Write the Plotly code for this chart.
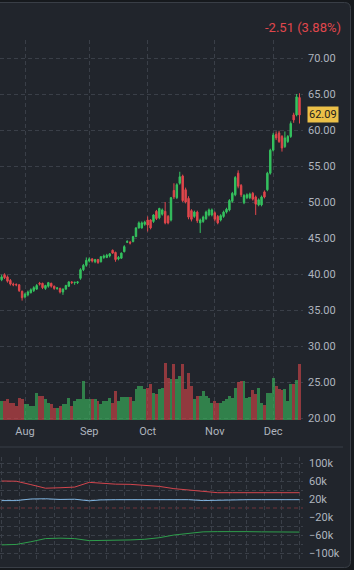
import plotly.graph_objects as go
import pandas as pd

# ---------------- data ----------------
dates = pd.bdate_range("2024-07-22", "2024-12-13", freq="C",
                       holidays=["2024-09-02", "2024-11-28"])
cats = list(dates.strftime("%Y-%m-%d"))

opens = [39.2, 39.9, 39.6, 39.1, 38.6, 38.55, 38.5, 37.6, 36.8, 37.1,
         37.4, 37.7, 37.9, 38.7, 38.7, 38.0, 38.3, 38.7, 38.3, 38.0,
         38.0, 37.5, 37.9, 38.3, 38.9, 38.8, 38.8, 39.4, 40.6, 41.2,
         41.8, 42.1, 41.7, 42.0, 41.7, 42.3, 42.3, 42.5, 43.3, 43.0,
         42.1, 42.2, 43.1, 44.4, 44.4, 44.5, 45.2, 46.4, 46.4, 46.9,
         47.5, 47.5, 47.3, 48.7, 47.8, 48.3, 48.7, 48.0, 47.5, 51.6,
         50.6, 52.6, 53.6, 51.7, 50.5, 48.8, 48.0, 48.6, 47.1, 47.3,
         47.7, 48.2, 48.2, 48.5, 48.0, 47.5, 48.0, 48.6, 48.9, 50.1,
         51.0, 54.0, 52.3, 49.9, 50.6, 50.6, 51.2, 50.7, 49.6, 49.6,
         51.4, 51.7, 54.0, 57.2, 59.4, 59.6, 59.1, 57.7, 58.4, 59.1,
         62.1, 62.1, 64.5]
highs = [39.9, 40.1, 39.8, 39.3, 38.8, 38.7, 38.6, 37.7, 37.4, 37.7,
         38.0, 38.3, 38.6, 38.9, 38.8, 38.5, 38.9, 38.8, 38.4, 38.2,
         38.1, 38.0, 38.5, 39.0, 39.0, 38.9, 39.0, 40.8, 41.4, 42.3,
         42.3, 42.2, 42.1, 42.1, 42.5, 42.7, 42.8, 42.9, 43.4, 43.1,
         42.5, 43.0, 44.0, 44.7, 44.6, 45.3, 46.5, 47.3, 47.3, 47.4,
         48.0, 47.6, 48.3, 48.9, 49.2, 49.1, 50.0, 48.2, 50.7, 52.6,
         52.6, 54.2, 53.8, 52.0, 50.8, 49.0, 48.8, 48.8, 47.7, 48.1,
         48.8, 49.1, 49.1, 48.7, 48.2, 48.3, 48.8, 49.2, 50.4, 51.4,
         53.6, 54.4, 52.5, 51.1, 51.2, 51.3, 51.4, 50.9, 50.5, 50.9,
         51.6, 54.2, 57.4, 59.6, 59.8, 59.9, 59.3, 59.8, 59.3, 61.2,
         62.4, 65.0, 65.1]
lows = [39.0, 39.3, 38.8, 38.4, 38.3, 38.3, 37.5, 36.3, 36.6, 36.9,
        37.3, 37.5, 37.8, 38.4, 37.9, 37.8, 38.1, 38.1, 37.8, 37.8,
        37.3, 37.1, 37.8, 38.2, 38.6, 38.5, 38.6, 39.2, 40.4, 41.0,
        41.6, 41.6, 41.5, 41.4, 41.6, 42.1, 42.2, 42.3, 42.8, 41.7,
        41.9, 42.1, 43.0, 44.3, 44.1, 44.4, 45.1, 46.3, 46.3, 46.7,
        45.9, 46.2, 47.1, 47.5, 47.6, 48.1, 46.9, 46.9, 47.3, 50.4,
        50.4, 52.4, 50.0, 49.8, 47.6, 47.3, 47.8, 47.1, 45.7, 47.1,
        47.5, 48.0, 48.0, 47.3, 46.9, 47.3, 47.8, 48.4, 48.7, 49.9,
        50.8, 51.9, 50.7, 49.7, 50.4, 50.4, 50.2, 48.2, 49.4, 49.4,
        50.5, 51.5, 53.8, 57.0, 58.6, 58.2, 57.0, 57.5, 58.2, 58.9,
        61.0, 61.9, 60.9]
closes = [39.6, 39.5, 39.0, 38.6, 38.5, 38.5, 37.7, 36.7, 37.2, 37.5,
          37.8, 38.1, 38.4, 38.6, 38.1, 38.4, 38.8, 38.3, 38.0, 38.05,
          37.5, 37.9, 38.4, 38.9, 38.8, 38.85, 38.9, 40.6, 41.2, 41.9,
          42.1, 41.8, 42.0, 41.6, 42.4, 42.5, 42.6, 42.8, 42.9, 42.0,
          42.3, 42.9, 43.8, 44.5, 44.3, 45.2, 46.4, 47.1, 47.1, 47.2,
          46.8, 46.4, 48.2, 47.7, 49.1, 48.9, 47.1, 47.1, 50.6, 50.7,
          52.4, 53.5, 50.2, 50.0, 47.9, 47.6, 48.6, 47.4, 47.5, 47.9,
          48.6, 48.9, 48.9, 47.6, 47.1, 48.1, 48.6, 49.0, 50.2, 51.2,
          53.4, 52.2, 51.0, 50.9, 51.0, 51.1, 50.4, 49.7, 50.3, 50.7,
          50.7, 54.0, 57.2, 59.3, 58.9, 58.4, 57.5, 58.9, 59.1, 60.9,
          61.4, 64.6, 62.09]
volumes = [19, 19, 21, 17, 17, 14, 22, 21, 16, 16,
           14, 14, 27, 24, 24, 21, 17, 16, 12, 12,
           14, 16, 16, 22, 14, 19, 21, 21, 39, 21,
           21, 21, 21, 19, 16, 19, 19, 22, 17, 29,
           19, 23, 23, 23, 23, 19, 31, 34, 34, 31,
           32, 36, 27, 26, 31, 32, 57, 42, 41, 56,
           41, 44, 56, 31, 47, 34, 21, 24, 24, 29,
           24, 22, 17, 19, 17, 17, 19, 21, 24, 22,
           32, 38, 39, 39, 22, 23, 30, 26, 32, 17,
           15, 27, 27, 42, 34, 31, 30, 31, 19, 36,
           36, 40, 56]

week_dates = ["2024-07-22", "2024-07-29", "2024-08-05", "2024-08-12", "2024-08-19",
              "2024-08-26", "2024-09-03", "2024-09-09", "2024-09-16", "2024-09-23",
              "2024-09-30", "2024-10-07", "2024-10-14", "2024-10-21", "2024-10-28",
              "2024-11-04", "2024-11-11", "2024-11-18", "2024-11-25", "2024-12-02",
              "2024-12-09", "2024-12-13"]
red_series = [60000, 59500, 52000, 44000, 45000, 46500, 57000, 55000, 53000, 52600,
              49500, 48000, 43000, 39500, 36500, 34000, 34000, 34000, 34000, 34000,
              34000, 34000]
blue_series = [16500, 16500, 20000, 20500, 19000, 19500, 16000, 18000, 18500, 18500,
               20000, 20000, 19500, 18500, 16500, 17500, 18500, 18500, 18500, 18500,
               18500, 18500]
green_series = [-82000, -81000, -75000, -68000, -67000, -68000, -72500, -72500, -71500, -71000,
                -69500, -66000, -60000, -56000, -53000, -52500, -52000, -52500, -53000, -53000,
                -53500, -53500]

month_labels = ["Aug", "Sep", "Oct", "Nov", "Dec"]
price_ticks = [20, 25, 30, 35, 40, 45, 50, 55, 60, 65, 70]
osc_ticks = [-100000, -80000, -60000, -40000, -20000, 20000, 40000, 60000, 80000, 100000]
osc_labels = ["−100k", "", "−60k", "", "−20k", "20k", "", "60k", "", "100k"]
change_text = "-2.51 (3.88%)"

# ---------------- styling ----------------
W, H = 354, 570
PLOT_W = 303
OUTER = "#16191d"
CARD = "#21252c"
BORDER = "#393e46"
GRID = "#3a3f48"
TXT = "#aeb4be"
UP = "#35c25f"
DOWN = "#e0474c"
FONT = "Roboto"


def xp(px):
    return px / PLOT_W


def yp(py):
    return 1 - py / H


month_first = []
seen = set()
for d in dates:
    key = (d.year, d.month)
    if key not in seen:
        seen.add(key)
        if d.month != 7:
            month_first.append(d.strftime("%Y-%m-%d"))

vol_colors = ["rgba(60,185,95,0.62)" if c >= o else "rgba(215,70,75,0.62)"
              for o, c in zip(opens, closes)]

fig = go.Figure()
fig.add_trace(go.Bar(x=cats, y=volumes, marker=dict(color=vol_colors, line=dict(width=0)),
                     yaxis="y2", xaxis="x", hoverinfo="skip", showlegend=False))
fig.add_trace(go.Candlestick(
    x=cats, open=opens, high=highs, low=lows, close=closes,
    increasing=dict(line=dict(color=UP, width=1), fillcolor=UP),
    decreasing=dict(line=dict(color=DOWN, width=1), fillcolor=DOWN),
    whiskerwidth=0, showlegend=False, xaxis="x", yaxis="y"))

for series, col in [(red_series, "#d2454d"), (blue_series, "#7fb4e0"), (green_series, "#2e9e4c")]:
    fig.add_trace(go.Scatter(x=week_dates, y=series, mode="lines",
                             line=dict(color=col, width=1), xaxis="x2", yaxis="y3",
                             showlegend=False, hoverinfo="skip"))

main_top, main_bot = 40, 420
px_per_unit = 7.2  # 5 price units per 36 px
price_lo = 20 - (main_bot - 418) / px_per_unit
price_hi = 70 + (58 - main_top) / px_per_unit

low_top, low_bot = 457, 559
half_k = (low_bot - low_top) / 2 / 0.45 * 1000

grid_common = dict(showgrid=True, gridcolor=GRID, gridwidth=1, griddash="4px,3px",
                   zeroline=False, showline=False, ticks="", automargin=False)

fig.update_layout(
    width=W, height=H,
    margin=dict(l=0, r=W - PLOT_W, t=0, b=0, autoexpand=False),
    paper_bgcolor=OUTER, plot_bgcolor="rgba(0,0,0,0)",
    font=dict(family=FONT, size=11, color=TXT),
    bargap=0, showlegend=False, hovermode=False,
    xaxis=dict(type="category", categoryorder="array", categoryarray=cats,
               range=[-0.56, 103.2], anchor="y", domain=[0, 1],
               tickvals=month_first, ticktext=month_labels,
               tickfont=dict(size=11, color=TXT), ticklabelstandoff=3,
               rangeslider=dict(visible=False), **grid_common),
    yaxis=dict(domain=[yp(main_bot), yp(main_top)], range=[price_lo, price_hi],
               side="right", anchor="x", tickvals=price_ticks, tickformat=".2f",
               tickfont=dict(size=11, color=TXT), ticklabelstandoff=4, **grid_common),
    yaxis2=dict(overlaying="y", range=[0, 380], visible=False, showgrid=False),
    xaxis2=dict(type="category", categoryorder="array", categoryarray=cats,
                matches="x", anchor="y3", showticklabels=False,
                rangeslider=dict(visible=False), **grid_common),
    yaxis3=dict(domain=[yp(low_bot), yp(low_top)], range=[-half_k, half_k],
                side="right", anchor="x2", tickvals=osc_ticks, ticktext=osc_labels,
                tickfont=dict(size=11, color=TXT), ticklabelstandoff=5, **grid_common),
)

# card background with rounded right corners
r = 6
path = (f"M {xp(-5)},{yp(2.5)} L {xp(350.5 - r)},{yp(2.5)} "
        f"Q {xp(350.5)},{yp(2.5)} {xp(350.5)},{yp(2.5 + r)} "
        f"L {xp(350.5)},{yp(567.5 - r)} "
        f"Q {xp(350.5)},{yp(567.5)} {xp(350.5 - r)},{yp(567.5)} "
        f"L {xp(-5)},{yp(567.5)} Z")
fig.add_shape(type="path", path=path, xref="paper", yref="paper",
              fillcolor=CARD, line=dict(color=BORDER, width=1), layer="below")
# pane separator
fig.add_shape(type="line", xref="paper", yref="paper", x0=0, x1=xp(343),
              y0=yp(447), y1=yp(447), line=dict(color=BORDER, width=1))
# zero line of lower pane
fig.add_shape(type="line", xref="paper", yref="y3", x0=0, x1=1, y0=0, y1=0,
              line=dict(color="#6e343a", width=1, dash="4px,3px"), layer="below")

fig.add_annotation(text=change_text, xref="paper", yref="paper",
                   x=xp(343), y=yp(27), xanchor="right", yanchor="middle",
                   showarrow=False, font=dict(family=FONT, size=13, color=DOWN))
fig.add_annotation(text=f"{closes[-1]:.2f}", xref="paper", yref="y",
                   x=1, y=closes[-1], xanchor="left", yanchor="middle", xshift=4,
                   showarrow=False, bgcolor="#ecc048", borderpad=1,
                   font=dict(family=FONT, size=11, color="#1c1c1c"))

fig.write_html("out.html")
